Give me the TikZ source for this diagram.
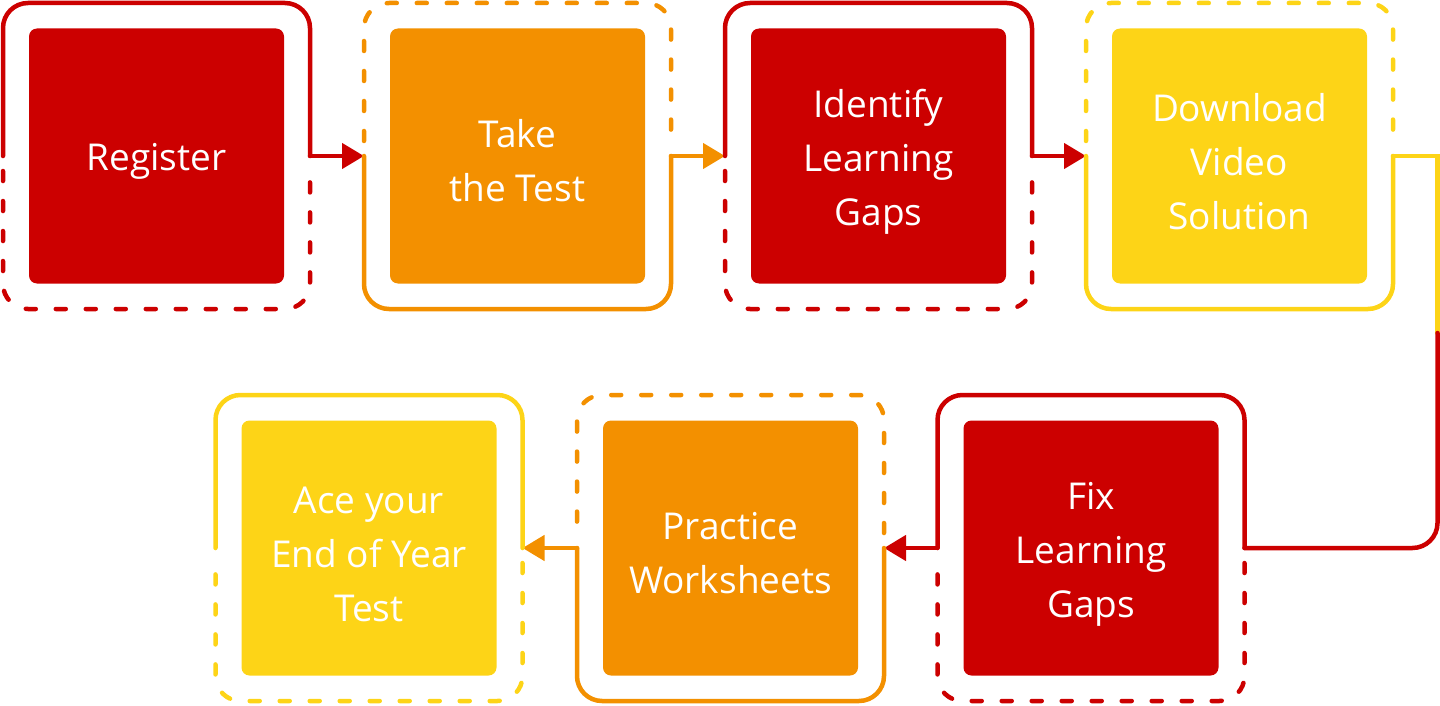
\documentclass[tikz,border=0pt]{standalone}
\usepackage{fontspec}
\setmainfont{Open Sans}
\usetikzlibrary{arrows.meta}
\definecolor{cred}{RGB}{204,0,0}
\definecolor{corange}{RGB}{243,144,0}
\definecolor{cyellow}{RGB}{253,212,23}
\tikzset{
  card/.style={fill=#1, draw=none, rounded corners=8pt, minimum width=255pt, minimum height=255pt,
    inner sep=0pt},
  cardtext/.style={text=white, align=center, inner sep=0pt, font=\fontsize{37}{54}\selectfont},
  framebox/.style={draw=none, minimum width=307pt, minimum height=306pt, inner sep=0pt, outer sep=0pt},
  solidline/.style={draw=#1, line width=4.5pt, line cap=round, line join=round, rounded corners=25pt},
  dashline/.style={draw=#1, line width=4.5pt, line cap=round, rounded corners=25pt, dash pattern=on 10pt off 20pt},
  arr/.style={draw=#1, line width=4.5pt, line cap=round, -{Triangle[length=22pt,width=25pt]}},
  plain/.style={draw=#1, line width=4.5pt, line cap=round, line join=miter}
}
\begin{document}
\begin{tikzpicture}[x=1pt,y=-1pt]
\useasboundingbox (0,0) rectangle (1440,706);
% frames (invisible helper nodes)
\node[framebox] (F1) at (156.5,156) {};
\node[framebox] (F2) at (517.5,156) {};
\node[framebox] (F3) at (878.5,156) {};
\node[framebox] (F4) at (1239.5,156) {};
\node[framebox] (F5) at (369,548) {};
\node[framebox] (F6) at (730.5,548) {};
\node[framebox] (F7) at (1091,548) {};
% cards
\node[card=cred] (c1) at (F1) {};
\node[card=corange] (c2) at (F2) {};
\node[card=cred] (c3) at (F3) {};
\node[card=cyellow] (c4) at (F4) {};
\node[card=cyellow] (c5) at (F5) {};
\node[card=corange] (c6) at (F6) {};
\node[card=cred] (c7) at (F7) {};
\node[cardtext] (t1) at ([yshift=-5pt]c1) {Register};
\node[cardtext] (t2) at ([yshift=-5pt]c2) {Take\\the Test};
\node[cardtext] (t3) at ([yshift=-6pt]c3) {Identify\\Learning\\Gaps};
\node[cardtext] (t4) at ([yshift=-6pt]c4) {Download\\Video\\Solution};
\node[cardtext] (t5) at ([yshift=-6pt]c5) {Ace your\\End of Year\\Test};
\node[cardtext] (t6) at ([yshift=-5pt]c6) {Practice\\Worksheets};
\node[cardtext] (t7) at ([yshift=-6pt]c7) {Fix\\Learning\\Gaps};
% unit 1: top solid, bottom dashed
\draw[solidline=cred] (F1.west) -- (F1.north west) -- (F1.north east) -- (F1.east);
\draw[dashline=cred] ([yshift=-15pt]F1.west) -- (F1.south west) -- (F1.south east) -- ([yshift=-15pt]F1.east);
\draw[arr=cred] (F1.east) -- (F2.west);
% unit 2: bottom solid, top dashed
\draw[solidline=corange] (F2.west) -- (F2.south west) -- (F2.south east) -- (F2.east);
\draw[dashline=corange] ([yshift=15pt]F2.west) -- (F2.north west) -- (F2.north east) -- ([yshift=15pt]F2.east);
\draw[arr=corange] (F2.east) -- (F3.west);
% unit 3
\draw[solidline=cred] (F3.west) -- (F3.north west) -- (F3.north east) -- (F3.east);
\draw[dashline=cred] ([yshift=-15pt]F3.west) -- (F3.south west) -- (F3.south east) -- ([yshift=-15pt]F3.east);
\draw[arr=cred] (F3.east) -- (F4.west);
% unit 4
\draw[solidline=cyellow] (F4.west) -- (F4.south west) -- (F4.south east) -- (F4.east);
\draw[dashline=cyellow] ([yshift=15pt]F4.west) -- (F4.north west) -- (F4.north east) -- ([yshift=15pt]F4.east);
% right-hand connector
\coordinate (turn) at (1437.5,156);
\coordinate (split) at (1437.5,333);
\draw[plain=cyellow] (F4.east) -- (turn) -- (split);
\draw[solidline=cred] (split) |- (F7.east);
% unit 7 (Fix): top solid, bottom dashed
\draw[solidline=cred] (F7.east) -- (F7.north east) -- (F7.north west) -- (F7.west);
\draw[dashline=cred] ([yshift=-15pt]F7.east) -- (F7.south east) -- (F7.south west) -- ([yshift=-15pt]F7.west);
\draw[arr=cred] (F7.west) -- (F6.east);
% unit 6 (Practice): bottom solid, top dashed
\draw[solidline=corange] (F6.east) -- (F6.south east) -- (F6.south west) -- (F6.west);
\draw[dashline=corange] ([yshift=15pt]F6.east) -- (F6.north east) -- (F6.north west) -- ([yshift=15pt]F6.west);
\draw[arr=corange] (F6.west) -- (F5.east);
% unit 5 (Ace): top solid, bottom dashed
\draw[solidline=cyellow] (F5.east) -- (F5.north east) -- (F5.north west) -- (F5.west);
\draw[dashline=cyellow] ([yshift=-15pt]F5.east) -- (F5.south east) -- (F5.south west) -- ([yshift=-15pt]F5.west);
\end{tikzpicture}
\end{document}
